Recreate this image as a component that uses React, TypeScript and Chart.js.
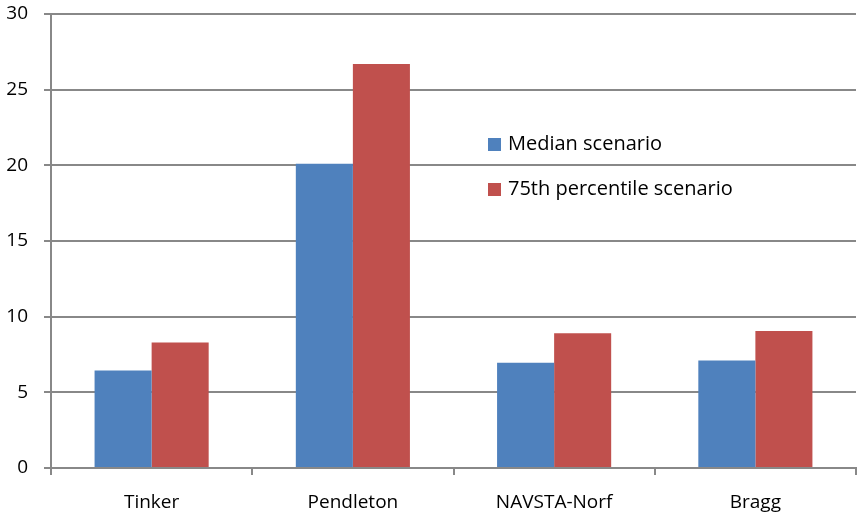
import React, { useEffect, useRef } from "react";
import { Chart, registerables } from "chart.js";

Chart.register(...registerables);

const categories = ["Tinker", "Pendleton", "NAVSTA-Norf", "Bragg"];
const medianValues = [6.45, 20.1, 6.95, 7.1];
const p75Values = [8.3, 26.7, 8.9, 9.05];
const seriesNames = ["Median scenario", "75th percentile scenario"];
const seriesColors = ["#4F81BD", "#C0504D"];

const FONT = "'Open Sans', 'Noto Sans', 'Liberation Sans', sans-serif";

export default function App() {
  const ref = useRef<HTMLCanvasElement | null>(null);

  useEffect(() => {
    document.body.style.margin = "0";
    const ctx = ref.current!.getContext("2d")!;
    const chart = new Chart(ctx, {
      type: "bar",
      data: {
        labels: categories,
        datasets: [
          { label: seriesNames[0], data: medianValues, backgroundColor: seriesColors[0] },
          { label: seriesNames[1], data: p75Values, backgroundColor: seriesColors[1] },
        ],
      },
      options: {
        responsive: false,
        animation: false,
        layout: { padding: { top: 14, right: 1, left: 0, bottom: 0 } },
        datasets: { bar: { categoryPercentage: 0.567, barPercentage: 1 } },
        plugins: { legend: { display: false }, tooltip: { enabled: false } },
        scales: {
          x: {
            grid: { drawOnChartArea: false, drawTicks: true, tickLength: 7, color: "#888", lineWidth: 2 },
            border: { color: "#888", width: 2 },
            ticks: { color: "#000", font: { family: FONT, size: 19 }, padding: 16 },
            afterFit: (s: any) => { s.height = 44; s.paddingLeft = 0; s.paddingRight = 0; },
          },
          y: {
            min: 0,
            max: 30,
            ticks: { stepSize: 5, color: "#000", font: { family: FONT, size: 19 }, padding: 16 },
            grid: { color: "#888", lineWidth: 2, tickLength: 7 },
            border: { color: "#888", width: 2 },
            afterFit: (s: any) => { s.width = 51; s.paddingTop = 0; s.paddingBottom = 0; },
          },
        },
      },
    });
    return () => chart.destroy();
  }, []);

  const legendItem = (i: number, top: number) => (
    <div style={{ position: "absolute", left: 488, top, display: "flex", alignItems: "center", fontFamily: FONT, fontSize: 20, lineHeight: "28px", color: "#000", whiteSpace: "nowrap" }}>
      <span style={{ display: "inline-block", width: 13, height: 13, background: seriesColors[i], marginRight: 7, marginTop: 2 }} />
      <span>{seriesNames[i]}</span>
    </div>
  );

  return (
    <div style={{ position: "relative", width: 857, height: 512 }}>
      <canvas ref={ref} width={857} height={512} style={{ display: "block" }} />
      {legendItem(0, 129)}
      {legendItem(1, 174)}
    </div>
  );
}
